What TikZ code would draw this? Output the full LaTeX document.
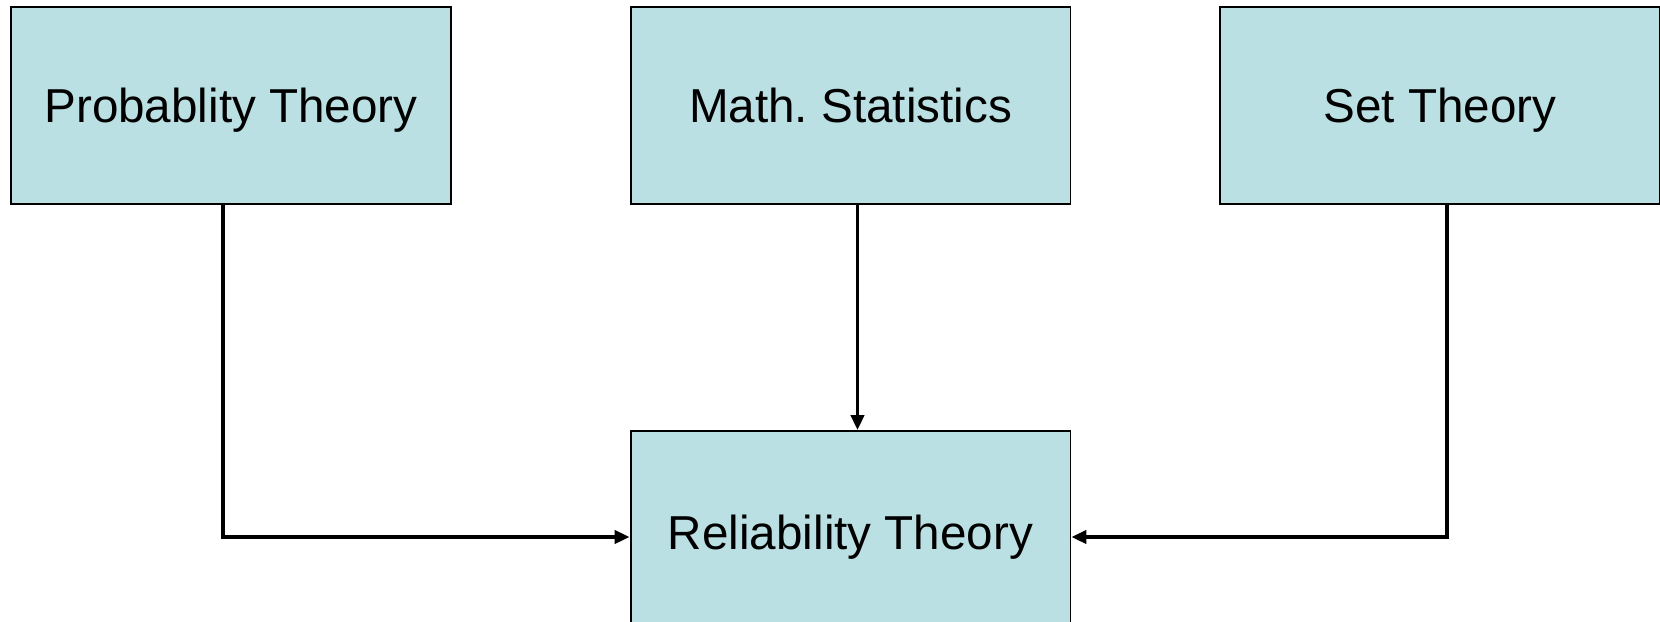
\documentclass[tikz,border=0pt]{standalone}
\usepackage{fontspec}
\setmainfont{Liberation Sans}
\usetikzlibrary{arrows.meta}
\definecolor{boxblue}{RGB}{187,224,227}
\begin{document}
\begin{tikzpicture}[x=0.02cm, y=-0.02cm,
    topic/.style={draw, line width=1.1pt, fill=boxblue, minimum width=8.8cm,
      minimum height=3.94cm, inner sep=0pt, text depth=0pt,
      font=\fontsize{27.1}{32}\selectfont},
    link/.style={line width=1.9pt, -{Triangle[length=8.5pt,width=7.5pt]}}]
    % Fix the page to the reference size
    \useasboundingbox (0,0) rectangle (1660,622);

    % The three source subjects
    \node[topic] (prob) at (231,105.5) {Probablity Theory};
    \node[topic] (math) at (850.5,105.5) {Math.\ Statistics};
    \node[topic] (set) at (1440,105.5) {Set Theory};

    % The target subject
    \node[topic, minimum height=4.24cm, text depth=5.7pt] (rel) at (850.5,537) {Reliability Theory};

    % Connect the subjects
    \draw[link] ([xshift=-0.16cm]prob.south) |- (rel.west);
    \draw[link] ([xshift=0.14cm]math.south) -- ([xshift=0.14cm]rel.north);
    \draw[link] ([xshift=0.14cm]set.south) |- (rel.east);
\end{tikzpicture}
\end{document}
